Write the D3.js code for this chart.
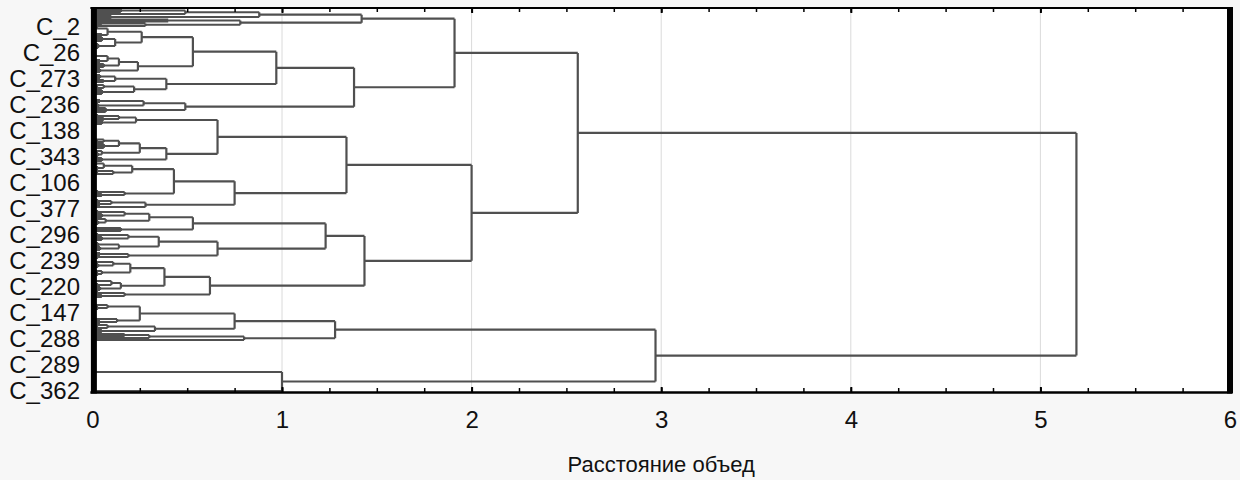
<!DOCTYPE html>
<html>
<head>
<meta charset="utf-8">
<script src="https://cdn.jsdelivr.net/npm/d3@7"></script>
<style>
  body { margin: 0; background: #f7f7f7; }
  svg { display: block; font-family: "Liberation Sans", Arial, sans-serif; }
</style>
</head>
<body>
<svg id="chart"></svg>
<script>
// case labels shown on the left (every 26th row of the tree)
const caseLabels = ["C_2", "C_26", "C_273", "C_236", "C_138", "C_343", "C_106", "C_377",
  "C_296", "C_239", "C_220", "C_147", "C_288", "C_289", "C_362"];
const distanceTicks = [0, 1, 2, 3, 4, 5, 6];
const axisTitle = "Расстояние объед";

// rows: [id, parent, linkage distance, members (0 = merge), empty rows after]
const trunk = [
  ["R", "", 5.19, 0, 0],
  ["U", "R", 2.56, 0, 0],
  ["L", "R", 2.97, 0, 0],
  ["A", "U", 1.91, 0, 0],
  ["B", "U", 2.0, 0, 0]
];

const branchA = [
  ["A1", "A", 1.42, 0, 0],
  ["P", "A1", 0.88, 0, 0],
  ["P1", "P", 0.49, 0, 0],
  ["p1a", "P1", 0.15, 4, 0],
  ["p1b", "P1", 0.05, 3, 0],
  ["p2", "P", 0.10, 3, 0],
  ["Q", "A1", 0.78, 0, 0],
  ["Q1", "Q", 0.40, 0, 0],
  ["q1a", "Q1", 0.04, 2, 0],
  ["q1b", "Q1", 0.06, 2, 0],
  ["Q2", "Q", 0.28, 0, 0],
  ["q2a", "Q2", 0.05, 2, 0],
  ["q2b", "Q2", 0.03, 3, 0],
  ["A2", "A", 1.38, 0, 0],
  ["A2a", "A2", 0.97, 0, 0],
  ["N53", "A2a", 0.53, 0, 0],
  ["N26", "N53", 0.26, 0, 0],
  ["N08a", "N26", 0.08, 0, 0],
  ["a1", "N08a", 0.02, 2, 4],
  ["a2", "N08a", 0.05, 3, 0],
  ["N12a", "N26", 0.12, 0, 0],
  ["a3", "N12a", 0.05, 5, 2],
  ["a4", "N12a", 0.03, 5, 6],
  ["N24", "N53", 0.24, 0, 0],
  ["N14a", "N24", 0.14, 0, 0],
  ["N08b", "N14a", 0.08, 0, 0],
  ["a5", "N08b", 0.02, 3, 2],
  ["a6", "N08b", 0.04, 3, 1],
  ["a7", "N14a", 0.06, 4, 1],
  ["a8", "N24", 0.04, 4, 2],
  ["N39", "A2a", 0.39, 0, 0],
  ["N12b", "N39", 0.12, 0, 0],
  ["a9", "N12b", 0.04, 4, 1],
  ["a10", "N12b", 0.06, 3, 1],
  ["N22", "N39", 0.22, 0, 0],
  ["N06", "N22", 0.06, 0, 0],
  ["a11", "N06", 0.02, 3, 0],
  ["a12", "N06", 0.03, 3, 0],
  ["a13", "N22", 0.05, 5, 5],
  ["A2b", "A2", 0.49, 0, 0],
  ["N27", "A2b", 0.27, 0, 0],
  ["a14", "N27", 0.04, 3, 1],
  ["a15", "N27", 0.03, 4, 0],
  ["a16", "A2b", 0.07, 5, 2]
];

const branchB = [
  ["B1", "B", 1.34, 0, 0],
  ["B1a", "B1", 0.66, 0, 0],
  ["N23", "B1a", 0.23, 0, 0],
  ["N14b", "N23", 0.14, 0, 0],
  ["b1", "N14b", 0.03, 3, 0],
  ["b2", "N14b", 0.06, 3, 0],
  ["b3", "N23", 0.05, 4, 14],
  ["N39b", "B1a", 0.39, 0, 0],
  ["N25", "N39b", 0.25, 0, 0],
  ["N14c", "N25", 0.14, 0, 0],
  ["N06b", "N14c", 0.06, 0, 0],
  ["b4", "N06b", 0.02, 2, 0],
  ["b5", "N06b", 0.03, 3, 0],
  ["b6", "N14c", 0.06, 5, 1],
  ["N05", "N25", 0.05, 0, 0],
  ["b7", "N05", 0.02, 3, 0],
  ["b8", "N05", 0.03, 4, 1],
  ["b9", "N39b", 0.05, 4, 0],
  ["B1b", "B1", 0.75, 0, 0],
  ["N43", "B1b", 0.43, 0, 0],
  ["N21", "N43", 0.21, 0, 0],
  ["N06c", "N21", 0.06, 0, 0],
  ["b10", "N06c", 0.02, 4, 1],
  ["b11", "N06c", 0.03, 3, 0],
  ["N11", "N21", 0.11, 0, 0],
  ["b12", "N11", 0.03, 3, 0],
  ["b13", "N11", 0.02, 3, 15],
  ["N17", "N43", 0.17, 0, 0],
  ["b14", "N17", 0.03, 3, 0],
  ["b15", "N17", 0.05, 3, 3],
  ["N28", "B1b", 0.28, 0, 0],
  ["N10", "N28", 0.10, 0, 0],
  ["b16", "N10", 0.03, 3, 0],
  ["b17", "N10", 0.04, 3, 0],
  ["b18", "N28", 0.02, 3, 2],
  ["B2", "B", 1.435, 0, 0],
  ["B2a", "B2", 1.23, 0, 0],
  ["N53b", "B2a", 0.53, 0, 0],
  ["N30", "N53b", 0.30, 0, 0],
  ["N17b", "N30", 0.17, 0, 0],
  ["b19", "N17b", 0.03, 3, 0],
  ["b20", "N17b", 0.05, 4, 0],
  ["N07", "N30", 0.07, 0, 0],
  ["b21", "N07", 0.02, 3, 0],
  ["b22", "N07", 0.03, 4, 3],
  ["b23", "N53b", 0.15, 4, 2],
  ["N66", "B2a", 0.66, 0, 0],
  ["N35", "N66", 0.35, 0, 0],
  ["N19", "N35", 0.19, 0, 0],
  ["b24", "N19", 0.03, 3, 0],
  ["b25", "N19", 0.05, 4, 2],
  ["N14d", "N35", 0.14, 0, 0],
  ["b26", "N14d", 0.03, 4, 0],
  ["b27", "N14d", 0.04, 4, 2],
  ["N19b", "N66", 0.19, 0, 0],
  ["b28", "N19b", 0.04, 3, 0],
  ["b29", "N19b", 0.03, 3, 2],
  ["B2b", "B2", 0.62, 0, 0],
  ["N38", "B2b", 0.38, 0, 0],
  ["N20", "N38", 0.20, 0, 0],
  ["N11b", "N20", 0.11, 0, 0],
  ["b30", "N11b", 0.02, 3, 0],
  ["b31", "N11b", 0.03, 4, 2],
  ["N05b", "N20", 0.05, 0, 0],
  ["b32", "N05b", 0.02, 3, 0],
  ["b33", "N05b", 0.03, 3, 4],
  ["N15b", "N38", 0.15, 0, 0],
  ["N10b", "N15b", 0.10, 0, 0],
  ["b34", "N10b", 0.02, 3, 1],
  ["b35", "N10b", 0.03, 3, 0],
  ["b36", "N15b", 0.04, 4, 1],
  ["N17c", "B2b", 0.17, 0, 0],
  ["b37", "N17c", 0.03, 3, 0],
  ["b38", "N17c", 0.05, 3, 6]
];

const branchC = [
  ["C1", "L", 1.28, 0, 0],
  ["C1a", "C1", 0.75, 0, 0],
  ["N25c", "C1a", 0.25, 0, 0],
  ["N08c", "N25c", 0.08, 0, 0],
  ["c1", "N08c", 0.02, 3, 0],
  ["c2", "N08c", 0.03, 3, 8],
  ["N13", "N25c", 0.13, 0, 0],
  ["c3", "N13", 0.02, 3, 0],
  ["c4", "N13", 0.04, 3, 0],
  ["N33", "C1a", 0.33, 0, 0],
  ["N08d", "N33", 0.08, 0, 0],
  ["c5", "N08d", 0.02, 3, 0],
  ["c6", "N08d", 0.03, 3, 0],
  ["c7", "N33", 0.05, 3, 1],
  ["N80", "C1", 0.80, 0, 0],
  ["N30b", "N80", 0.30, 0, 0],
  ["c8", "N30b", 0.17, 3, 0],
  ["c9", "N30b", 0.06, 3, 0],
  ["c10", "N80", 0, 1, 31],
  ["C2", "L", 1.0, 0, 0],
  ["c11", "C2", 0, 1, 18],
  ["c12", "C2", 0, 1, 0]
];

const width = 1240;
const height = 480;
const plot = { left: 92.4, right: 1230, top: 8, bottom: 392 };
const labelEvery = 26;
const firstLabelRow = 17;

const svg = d3.select("#chart").attr("width", width).attr("height", height);

const root = d3
  .stratify()
  .id((d) => d[0])
  .parentId((d) => d[1])([...trunk, ...branchA, ...branchB, ...branchC]);

// rows of the tree, top to bottom
let row = 0;
root.leaves().forEach((n) => {
  n.row = row;
  row += n.data[3] + n.data[4];
});
const rowCount = row;

const x = d3.scaleLinear().domain([0, 6]).range([plot.left, plot.right]);
const y = d3.scaleLinear().domain([0, rowCount - 1]).range([plot.top + 1, plot.bottom - 1]);

root.eachAfter((n) => {
  n.h = n.data[2];
  if (n.children) {
    n.y = (n.children[0].y + n.children[n.children.length - 1].y) / 2;
  } else {
    n.y = (y(n.row) + y(n.row + n.data[3] - 1)) / 2;
  }
});

// plot background and grid
svg.append("rect").attr("width", width).attr("height", height).attr("fill", "#f7f7f7");
svg
  .append("rect")
  .attr("x", plot.left)
  .attr("y", plot.top)
  .attr("width", plot.right - plot.left)
  .attr("height", plot.bottom - plot.top)
  .attr("fill", "#fff");

svg
  .append("g")
  .selectAll("line")
  .data(distanceTicks.slice(1, -1))
  .join("line")
  .attr("x1", (d) => x(d))
  .attr("x2", (d) => x(d))
  .attr("y1", plot.top)
  .attr("y2", plot.bottom)
  .attr("stroke", "#dadada")
  .attr("stroke-width", 1);

// tree
const path = d3.path();
root.each((n) => {
  if (n.parent) {
    path.moveTo(x(n.h), n.y);
    path.lineTo(x(n.parent.h), n.y);
  }
  if (n.children) {
    path.moveTo(x(n.h), n.children[0].y);
    path.lineTo(x(n.h), n.children[n.children.length - 1].y);
  } else if (n.data[3] > 1) {
    const y0 = y(n.row);
    const y1 = y(n.row + n.data[3] - 1);
    for (let i = 0; i < n.data[3]; i++) {
      path.moveTo(x(0), y(n.row + i));
      path.lineTo(x(n.h), y(n.row + i));
    }
    path.moveTo(x(n.h), y0);
    path.lineTo(x(n.h), y1);
  }
});

svg
  .append("path")
  .attr("d", path.toString())
  .attr("fill", "none")
  .attr("stroke", "#505050")
  .attr("stroke-width", 2.2);

// axes: inward ticks at top and bottom
const minorTicks = d3.range(0, 6.001, 0.25);

const bottomAxis = svg
  .append("g")
  .attr("transform", `translate(0,${plot.bottom})`)
  .call(
    d3
      .axisBottom(x)
      .tickValues(distanceTicks)
      .tickFormat(d3.format("d"))
      .tickSizeInner(-5)
      .tickSizeOuter(0)
      .tickPadding(19)
  );
bottomAxis.select(".domain").remove();
bottomAxis.selectAll("line").attr("stroke", "#000").attr("stroke-width", 2);
bottomAxis
  .selectAll("text")
  .attr("font-size", 24)
  .attr("fill", "#111")
  .attr("font-family", "Liberation Sans, Arial, sans-serif");

const bottomMinor = svg
  .append("g")
  .attr("transform", `translate(0,${plot.bottom})`)
  .call(d3.axisBottom(x).tickValues(minorTicks).tickSizeInner(-4).tickSizeOuter(0).tickFormat(""));
bottomMinor.select(".domain").remove();
bottomMinor.selectAll("line").attr("stroke", "#000").attr("stroke-width", 1.5);

const topAxis = svg
  .append("g")
  .attr("transform", `translate(0,${plot.top})`)
  .call(d3.axisTop(x).tickValues(minorTicks).tickSizeInner(-4).tickSizeOuter(0).tickFormat(""));
topAxis.select(".domain").remove();
topAxis.selectAll("line").attr("stroke", "#000").attr("stroke-width", 1.5);

const topMajor = svg
  .append("g")
  .attr("transform", `translate(0,${plot.top})`)
  .call(d3.axisTop(x).tickValues(distanceTicks).tickSizeInner(-5).tickSizeOuter(0).tickFormat(""));
topMajor.select(".domain").remove();
topMajor.selectAll("line").attr("stroke", "#000").attr("stroke-width", 2);

// frame
svg
  .append("line")
  .attr("x1", plot.left - 2)
  .attr("x2", plot.right + 2)
  .attr("y1", plot.top)
  .attr("y2", plot.top)
  .attr("stroke", "#000")
  .attr("stroke-width", 2);
svg
  .append("line")
  .attr("x1", plot.left - 2)
  .attr("x2", plot.right + 2)
  .attr("y1", plot.bottom + 0.5)
  .attr("y2", plot.bottom + 0.5)
  .attr("stroke", "#000")
  .attr("stroke-width", 2.5);
[plot.left + 1.5, plot.right].forEach((px) => {
  svg
    .append("line")
    .attr("x1", px)
    .attr("x2", px)
    .attr("y1", plot.top - 1)
    .attr("y2", plot.bottom + 1.5)
    .attr("stroke", "#000")
    .attr("stroke-width", 6);
});

// case labels
svg
  .append("g")
  .selectAll("text")
  .data(caseLabels)
  .join("text")
  .attr("x", 80)
  .attr("y", (d, i) => y(firstLabelRow + i * labelEvery))
  .attr("dy", "0.36em")
  .attr("text-anchor", "end")
  .attr("font-size", 24)
  .attr("fill", "#111")
  .text((d) => d);

svg
  .append("text")
  .attr("x", (plot.left + plot.right) / 2)
  .attr("y", 472)
  .attr("text-anchor", "middle")
  .attr("font-size", 22)
  .attr("fill", "#111")
  .text(axisTitle);
</script>
</body>
</html>
